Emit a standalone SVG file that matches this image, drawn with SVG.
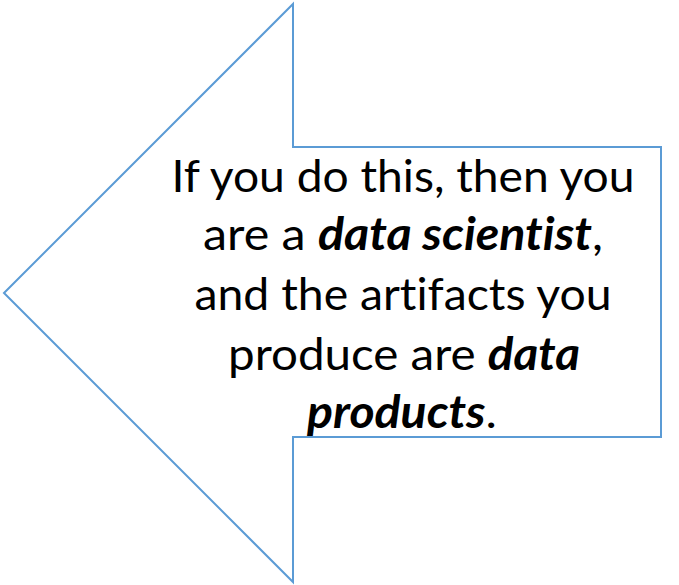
<svg xmlns="http://www.w3.org/2000/svg" width="679" height="585" viewBox="0 0 679 585">
<style>
.shape{fill:#ffffff;stroke:#5B9BD5;stroke-width:2;stroke-linejoin:miter}
.t{font-family:Lato,"Liberation Sans",sans-serif;font-size:45px;fill:#000000;text-anchor:middle;font-variant-ligatures:none;font-feature-settings:"liga" 0,"clig" 0}
.e{font-weight:bold;font-style:italic}
</style>
<rect width="679" height="585" fill="#ffffff"/>
<g id="arrow">
<polygon class="shape" points="4,293 293,4 293,147 661,147 661,437 293,437 293,582"/>
<text class="t" x="403" y="192" textLength="463" lengthAdjust="spacingAndGlyphs">If you do this, then you</text>
<text class="t" x="403" y="250" textLength="400" lengthAdjust="spacingAndGlyphs">are a <tspan class="e">data scientist</tspan>,</text>
<text class="t" x="403" y="310" textLength="417" lengthAdjust="spacingAndGlyphs">and the artifacts you</text>
<text class="t" x="404" y="370" textLength="352" lengthAdjust="spacingAndGlyphs">produce are <tspan class="e">data</tspan></text>
<text class="t" x="402" y="428" textLength="190" lengthAdjust="spacingAndGlyphs"><tspan class="e">products</tspan>.</text>
</g>
</svg>
